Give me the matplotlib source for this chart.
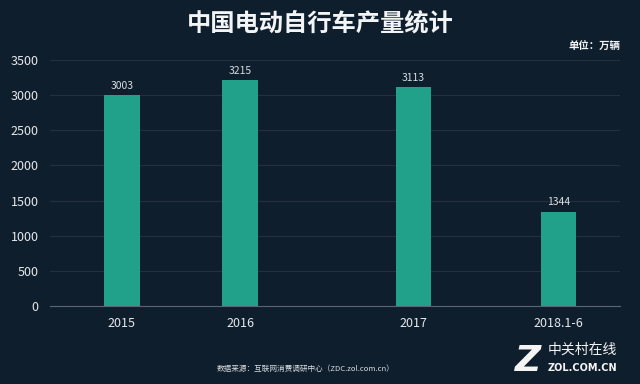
import numpy as np
import matplotlib.pyplot as plt

plt.rcParams['font.family'] = ['Noto Sans CJK SC', 'DejaVu Sans']

# data
years = ['2015', '2016', '2017', '2018.1-6']
output = [3003, 3215, 3113, 1344]
yticks = [0, 500, 1000, 1500, 2000, 2500, 3000, 3500]

bg = '#0f1e2d'
bar_color = '#21a189'
xpos = [0, 1, 2.47, 3.7]

fig = plt.figure(figsize=(6.4, 3.84), dpi=100, facecolor=bg)
ax = fig.add_axes([0.078, 0.203, 0.891, 0.641], facecolor=bg)

ax.bar(xpos, output, width=0.3, color=bar_color, zorder=3)
for x, v in zip(xpos, output):
    ax.text(x, v + 60, str(v), ha='center', va='bottom', color='#d8dde2', fontsize=7.5)

ax.set_xlim(-0.61, 4.22)
ax.set_ylim(0, 3500)
ax.set_yticks(yticks)
ax.set_yticklabels([str(t) for t in yticks], color='#e6e9ec', fontsize=9)
ax.set_xticks(xpos)
ax.set_xticklabels(years, color='#e6e9ec', fontsize=9)
ax.tick_params(length=0, pad=8)
ax.grid(axis='y', color='#22303f', linewidth=0.8, zorder=0)
for s in ['top', 'right', 'left']:
    ax.spines[s].set_visible(False)
ax.spines['bottom'].set_color('#5a6673')
ax.spines['bottom'].set_linewidth(0.8)

fig.text(0.5, 0.94, '中国电动自行车产量统计', ha='center', va='center', color='#f2f4f6',
         fontsize=17.5, fontweight='bold')
fig.text(0.97, 0.878, '单位：万辆', ha='right', va='center', color='#f2f4f6',
         fontsize=7.5, fontweight='bold')
fig.text(0.477, 0.04, '数据来源：互联网消费调研中心（ZDC.zol.com.cn）', ha='center', va='center',
         color='#d8dde2', fontsize=5.5)
fig.text(0.825, 0.06, 'Z', ha='center', va='center', color='#f4f4f4', fontsize=26,
         fontweight='bold', style='italic', family=['DejaVu Sans'])
fig.text(0.855, 0.09, '中关村在线', ha='left', va='center', color='#f4f4f4', fontsize=10)
fig.text(0.855, 0.042, 'ZOL.COM.CN', ha='left', va='center', color='#f4f4f4', fontsize=7,
         fontweight='bold', family=['DejaVu Sans'])

fig.savefig('out.png', dpi=100, facecolor=bg)
